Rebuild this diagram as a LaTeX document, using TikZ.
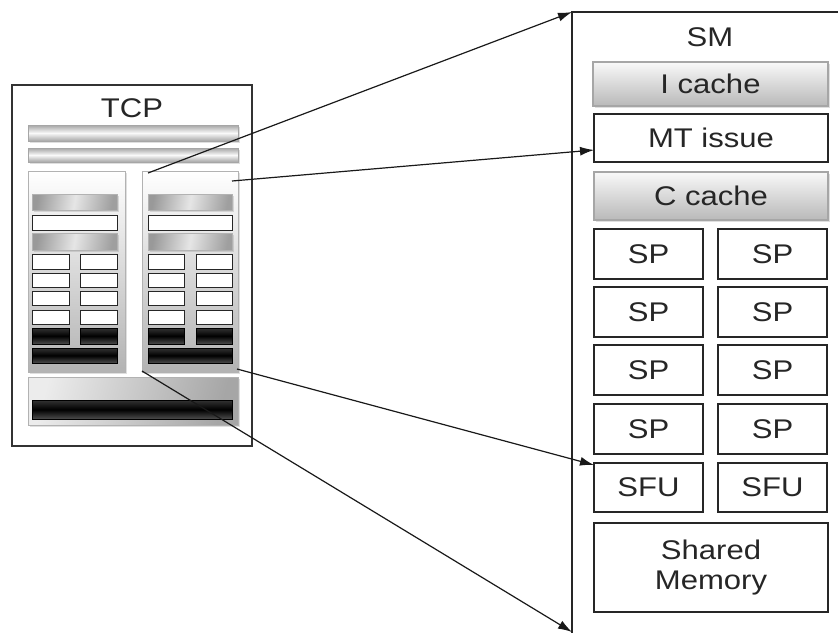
\documentclass[tikz,border=0pt]{standalone}
\usepackage{fontspec}
\setmainfont{Liberation Sans}[FakeStretch=1.15]
\usetikzlibrary{arrows.meta,shadows}

% rectangle node given by its two corners (x1,y1) (x2,y2)
\newcommand\blk[7]{%
  \node[#1, anchor=north west, minimum width={(#5-#3)*1pt},
        minimum height={(#6-#4)*1pt}] (#2) at (#3,#4) {#7};}

\begin{document}
\begin{tikzpicture}[x=1pt,y=-1pt,
  base/.style={rectangle, inner sep=0pt, outer sep=0pt, line width=1.4pt,
               text=black!85, font=\fontsize{27}{32}\selectfont},
  wbox/.style={base, draw=black!85, fill=white},
  frame/.style={base, draw=black!80, line width=1.3pt},
  softshadow/.style={drop shadow={opacity=0.25, shadow xshift=2pt, shadow yshift=-2pt}},
  hbar/.style={base, draw=gray!70, line width=1pt, top color=gray!70,
               bottom color=gray!70, middle color=gray!5, softshadow},
  cache/.style={base, draw=gray!70, line width=1.2pt, top color=gray!5,
                bottom color=gray!55, softshadow},
  panel/.style={base, draw=gray!60, line width=1pt, top color=white,
                bottom color=gray!60, softshadow},
  ibar/.style={base, draw=gray!60, line width=1pt, left color=gray!80,
               right color=gray!75, middle color=gray!20, shading angle=80,
               softshadow},
  sbox/.style={base, draw=black!85, line width=1pt, fill=white},
  dbox/.style={base, draw=black, line width=1pt, top color=black!80,
               bottom color=black!70, middle color=black},
  lowblock/.style={base, draw=gray!60, line width=1pt, left color=gray!15,
                   right color=gray!70, shading angle=75, softshadow},
  link/.style={line width=1.2pt, black!90, -{Latex[length=14pt,width=9pt]}}
]
\useasboundingbox (0,0) rectangle (838,632);

% ---------------- TCP ----------------
\blk{frame}{tcp}{12}{85}{252}{446}{}
\node[base] (tcplabel) at (132,108) {TCP};
\blk{hbar}{bar1}{28}{125}{238}{141}{}
\blk{hbar}{bar2}{28}{148}{238}{162}{}

\blk{panel}{pl}{28}{171}{125}{372}{}
\blk{panel}{pr}{142}{171}{238}{372}{}

% contents of the two panels
\foreach \p/\xa/\xb/\xc/\xd in {l/32/69/80/117, r/148/184/196/232}{
  \blk{ibar}{\p-ib1}{\xa}{194}{\xd}{210}{}
  \blk{sbox}{\p-wb}{\xa}{215}{\xd}{230}{}
  \blk{ibar}{\p-ib2}{\xa}{233}{\xd}{250}{}
  \foreach \r/\ya/\yb in {1/254/269, 2/273/287, 3/291/305, 4/310/324}{
    \blk{sbox}{\p-a\r}{\xa}{\ya}{\xb}{\yb}{}
    \blk{sbox}{\p-b\r}{\xc}{\ya}{\xd}{\yb}{}
  }
  \blk{dbox}{\p-da}{\xa}{328}{\xb}{344}{}
  \blk{dbox}{\p-db}{\xc}{328}{\xd}{344}{}
  \blk{dbox}{\p-dw}{\xa}{348}{\xd}{363}{}
}

\blk{lowblock}{low}{28}{377}{238}{425}{}
\blk{dbox}{lowbar}{32}{400}{232}{419}{}

% ---------------- SM ----------------
\coordinate (smtop) at (572,12);
\coordinate (smbot) at (572,632);
\draw[line width=1.3pt, black!85] (845,12) -- (smtop) -- (572,640);
\node[base] (smlabel) at (710,37) {SM};

\blk{cache}{icache}{593}{62}{828}{106}{I cache}
\blk{wbox}{mt}{594}{114}{828}{162}{MT issue}
\blk{cache}{ccache}{594}{172}{828}{220}{C cache}

\foreach \r/\ya/\yb in {1/229/279, 2/287/337, 3/345/395, 4/404/454}{
  \blk{wbox}{spl\r}{594}{\ya}{703}{\yb}{SP}
  \blk{wbox}{spr\r}{718}{\ya}{827}{\yb}{SP}
}
\blk{wbox}{sful}{594}{463}{703}{512}{SFU}
\blk{wbox}{sfur}{718}{463}{827}{512}{SFU}
\blk{wbox, align=center}{shmem}{594}{523}{828}{612}{Shared\\[-2pt]Memory}

% ---------------- connectors ----------------
\coordinate (s1) at (148,173);
\coordinate (s2) at (232,181);
\coordinate (s3) at (237,369);
\coordinate (s4) at (142,371);

\draw[link] (s1) -- (smtop);
\draw[link] (s2) -- ([yshift=-12pt]mt.west);
\draw[link] (s3) -- ([yshift=-2pt]sful.north west);
\draw[link] (s4) -- (smbot);
\end{tikzpicture}
\end{document}
